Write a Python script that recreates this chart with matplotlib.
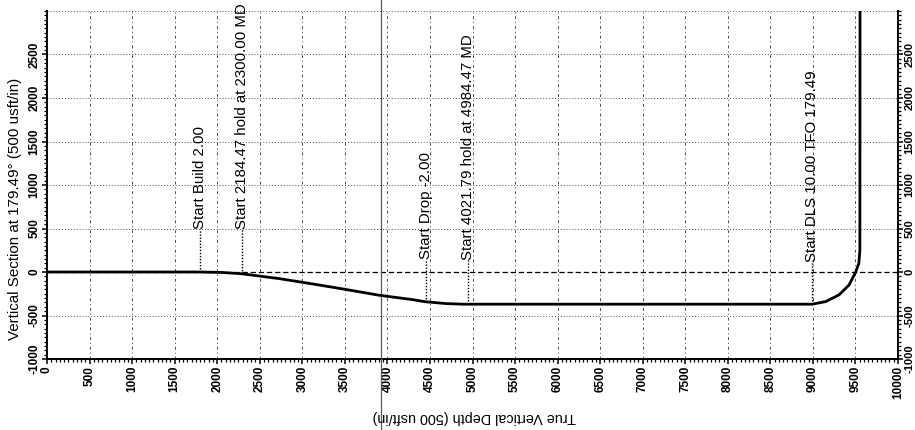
import numpy as np
import matplotlib
matplotlib.use("Agg")
import matplotlib.pyplot as plt
from matplotlib.ticker import MultipleLocator

# well path: true vertical depth vs vertical section
tvd = [0, 1800, 2050, 2285, 2735, 3126, 3478, 3908, 4299, 4437, 4691, 4887, 5000,
       8991, 9151, 9307, 9425, 9503, 9540, 9552, 9554]
vs = [0, 0, -5, -20, -77, -138, -195, -268, -318, -341, -363, -370, -370,
      -370, -340, -263, -149, 0, 100, 250, 3000]

# plan events
event_tvd = [1800, 2290, 4448, 4945, 8991]
event_labels = ["Start Build 2.00",
                "Start 2184.47 hold at 2300.00 MD",
                "Start Drop -2.00",
                "Start 4021.79 hold at 4984.47 MD",
                "Start DLS 10.00 TFO 179.49"]

xticks = list(range(0, 10001, 500))
yticks = list(range(-1000, 2501, 500))

# where each label text starts (vertical section units)
label_base = [490, 490, 155, 140, 115]

plt.rcParams["font.family"] = ["Liberation Sans", "DejaVu Sans"]
plt.rcParams["axes.unicode_minus"] = False

fig = plt.figure(figsize=(9.15, 4.3), dpi=100)
ax = fig.add_axes([47/915, 1-359/430, 851/915, 348/430])

ax.set_xlim(0, 10000)
ax.set_ylim(-1000, 3000)

# grid
for x in xticks[1:-1]:
    ax.axvline(x, color="0.3", lw=0.7, ls=(0, (3, 3, 1, 3)), zorder=1)
for y in [-500, 500, 1000, 1500, 2000, 2500, 3000]:
    ax.axhline(y, color="0.3", lw=0.7, ls=(0, (1, 2)), zorder=1, clip_on=False)
ax.axhline(0, color="black", lw=0.9, ls=(0, (4.3, 2.2)), zorder=2)

# scan artifact line
ax.axvline(3920, ymin=-0.21, ymax=1.04, color="0.35", lw=0.9, clip_on=False, zorder=3)

ax.plot(tvd, vs, color="black", lw=2.0, zorder=4, solid_capstyle="butt")

for x, base, txt in zip(event_tvd, label_base, event_labels):
    yc = np.interp(x, tvd, vs)
    ax.plot([x, x], [yc, base], color="black", lw=1.0, ls=(0, (1, 1.2)), zorder=3)
    ax.text(x, base, txt, rotation=90, ha="center", va="bottom", fontsize=10.8,
            zorder=5)

ax.spines["top"].set_visible(False)
for s in ["left", "right", "bottom"]:
    ax.spines[s].set_linewidth(1.4)

ax.set_xticks(xticks)
ax.set_yticks(yticks)
ax.xaxis.set_minor_locator(MultipleLocator(50))
ax.yaxis.set_minor_locator(MultipleLocator(50))
ax.tick_params(axis="both", which="major", direction="out", length=3.5, width=1.1,
               pad=1.5, labelsize=8.5)
ax.tick_params(axis="both", which="minor", direction="out", length=2.2, width=0.9)
ax.tick_params(axis="y", which="both", left=True, right=True, labelleft=True,
               labelright=True)
ax.tick_params(axis="y", which="major", pad=1.0)
ax.tick_params(axis="x", which="both", top=False)
for t in ax.xaxis.get_major_ticks():
    t.label1.set_rotation(90)
    t.label1.set_fontweight("bold")
for t in ax.yaxis.get_major_ticks():
    for lab in (t.label1, t.label2):
        lab.set_rotation(90)
        lab.set_va("center")
        lab.set_fontweight("bold")
    t.label2.set_fontsize(8)  # right side sits against the page edge

fig.text(15/915, 1-209/430, "Vertical Section at 179.49° (500 usft/in)",
         rotation=90, ha="center", va="center", fontsize=10.9)
fig.text(474/915, 1-417/430, "True Vertical Depth (500 usft/in)",
         rotation=180, ha="center", va="center", fontsize=10.4)

fig.savefig("out.png", dpi=100)
